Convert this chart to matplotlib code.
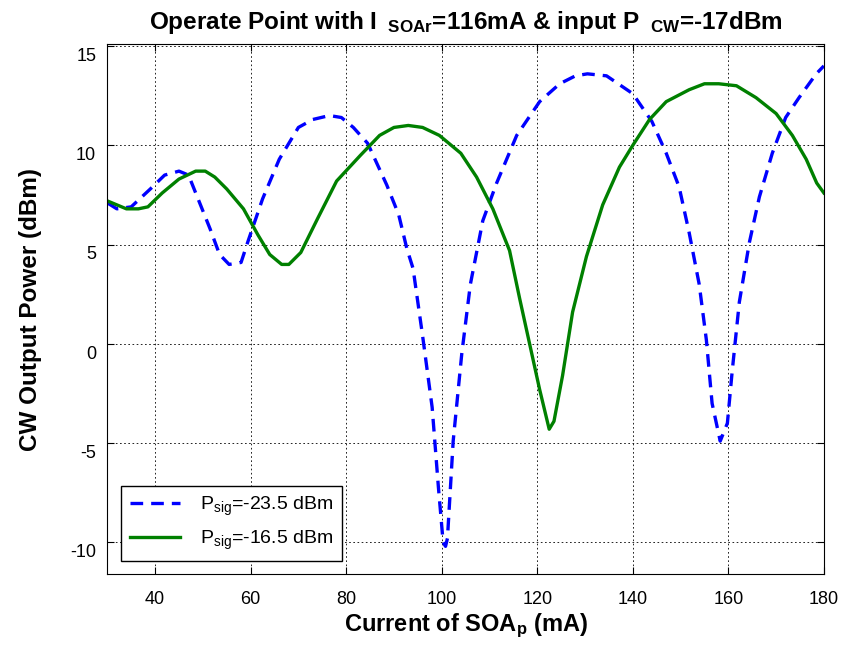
import numpy as np
import matplotlib
matplotlib.use("Agg")
import matplotlib.pyplot as plt
import matplotlib.transforms as mtransforms

plt.rcParams['font.family'] = ['Liberation Sans', 'DejaVu Sans']
plt.rcParams['mathtext.default'] = 'regular'
plt.rcParams['axes.unicode_minus'] = False

# P_sig = -23.5 dBm (blue dashed)
x_blue = [30, 32, 35, 39, 42, 45, 47, 49, 51.5, 53.5, 55.5, 58, 59.5, 62.5, 66, 70, 73, 76.5,
          79, 81.5, 84.5, 88.5, 91, 92.7, 94, 96, 98, 99.3, 100.3, 100.8, 101.2, 102.4, 104.2,
          106, 108.6, 111.5, 115.7, 120.5, 124.7, 128, 130.5, 134.5, 140, 144, 147, 149.7,
          151.8, 153.9, 155.4, 156.6, 158.3, 159.8, 160.8, 162.3, 164.4, 166.5, 169.2, 172,
          174.8, 178.4, 180]
y_blue = [7.1, 6.8, 6.9, 7.8, 8.5, 8.7, 8.5, 7.3, 5.8, 4.5, 4.0, 4.1, 5.2, 7.3, 9.3, 10.9, 11.3, 11.5,
          11.4, 10.9, 10.1, 8.0, 6.5, 4.8, 3.8, 0.4, -3.2, -7.2, -10.0, -10.2, -9.8, -4.9, -0.5,
          3.0, 6.2, 8.1, 10.5, 12.2, 13.1, 13.5, 13.6, 13.5, 12.6, 11.2, 9.6, 7.9,
          5.6, 3.0, 0.2, -3.0, -4.9, -4.0, -1.4, 2.1, 5.1, 7.4, 9.6, 11.4,
          12.4, 13.6, 14.0]

# P_sig = -16.5 dBm (green solid)
x_green = [30, 34, 36.5, 38.5, 41.5, 45, 48.5, 50.5, 52.5, 55, 58.5, 61.5, 64, 66.5, 68, 70.5, 74,
           78, 83, 87, 90, 93, 96, 99.5, 102, 104, 107.3, 110.7, 114.2, 116.3, 118.4, 120.5,
           122.5, 123.5, 125.3, 127.4, 130.3, 133.7, 137.2, 140, 143.5, 147, 151.8, 155, 158,
           161.7, 165.8, 170, 173.4, 176.3, 178.5, 180]
y_green = [7.2, 6.8, 6.8, 6.9, 7.6, 8.3, 8.7, 8.7, 8.4, 7.8, 6.8, 5.5, 4.5, 4.0, 4.0, 4.6, 6.3,
           8.2, 9.5, 10.5, 10.9, 11.0, 10.9, 10.5, 10.0, 9.6, 8.4, 6.8, 4.7, 2.3, 0.0, -2.3,
           -4.3, -3.9, -1.6, 1.6, 4.4, 7.0, 8.9, 10.0, 11.3, 12.2, 12.8, 13.1, 13.1,
           13.0, 12.4, 11.6, 10.5, 9.3, 8.1, 7.6]

fig = plt.figure(figsize=(8.45, 6.48), dpi=100)
ax = fig.add_axes([0.127, 0.114, 0.848, 0.818])

ax.plot(x_blue, y_blue, color='#0000ff', linewidth=2.4, dashes=(3.8, 2.4),
        label='P$_{sig}$=-23.5 dBm')
ax.plot(x_green, y_green, color='#008000', linewidth=2.4,
        label='P$_{sig}$=-16.5 dBm')

ax.set_xlim(30, 180)
ax.set_ylim(-11.6, 15.1)
ax.set_xticks(np.arange(40, 181, 20))
ax.set_yticks([-10, -5, 0, 5, 10, 15])
ax.grid(True, color='black', linestyle=(0, (2, 3)), linewidth=0.6)
ax.tick_params(direction='in', top=True, right=True, labelsize=13, length=5)
ax.tick_params(axis='x', pad=12)
ax.tick_params(axis='y', pad=8)
# matlab export puts the y labels a bit low
off = mtransforms.ScaledTranslation(0, -6 / 72, fig.dpi_scale_trans)
for lab in ax.get_yticklabels():
    lab.set_transform(lab.get_transform() + off)
for s in ax.spines.values():
    s.set_linewidth(0.8)

ax.set_xlabel('Current of SOA$_p$ (mA)', fontsize=17, fontweight='bold', labelpad=3)
ax.set_ylabel('CW Output Power (dBm)', fontsize=17.5, fontweight='bold', labelpad=20)
ax.set_title('Operate Point with I$_{\\ \\ SOAr}$=116mA & input P$_{\\ \\ CW}$=-17dBm',
             fontsize=17.5, fontweight='bold', pad=11)

leg = ax.legend(loc='lower left', fontsize=14, fancybox=False, framealpha=1,
                edgecolor='black', handlelength=2.6, labelspacing=0.55,
                borderaxespad=0.7, borderpad=0.45, handletextpad=1.0)
leg.get_frame().set_linewidth(1.0)

fig.savefig('out.png', dpi=100)
